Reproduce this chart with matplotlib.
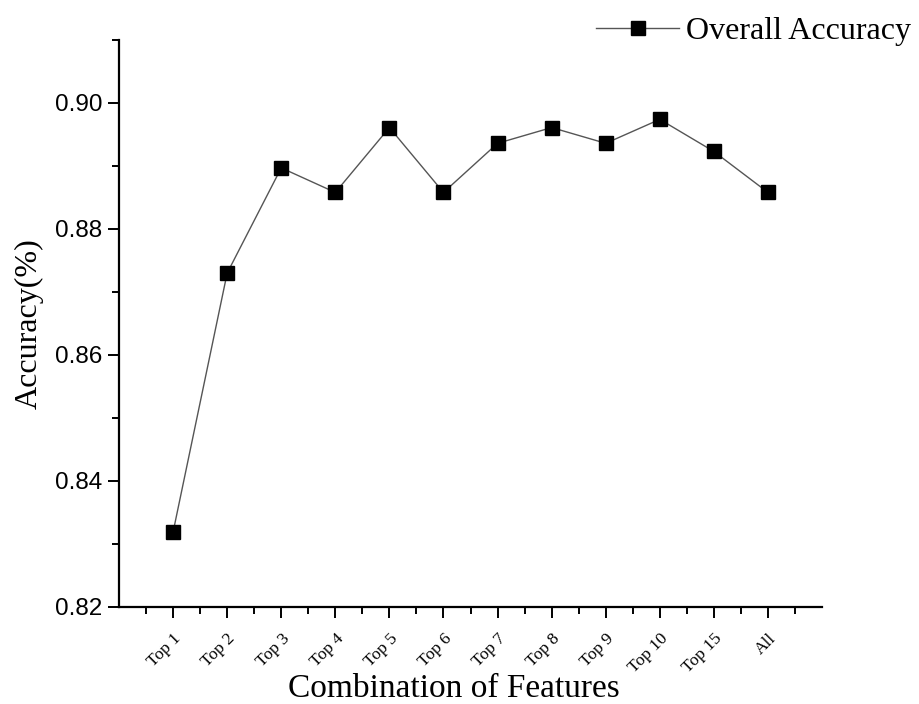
import matplotlib
matplotlib.use("Agg")
import matplotlib.pyplot as plt
from matplotlib.ticker import MultipleLocator, FixedLocator

categories = ["Top 1", "Top 2", "Top 3", "Top 4", "Top 5", "Top 6", "Top 7",
              "Top 8", "Top 9", "Top 10", "Top 15", "All"]
accuracy = [0.8319, 0.8730, 0.8897, 0.8858, 0.8961, 0.8858, 0.8936,
            0.8961, 0.8936, 0.8974, 0.8923, 0.8858]
y_ticks = [0.82, 0.84, 0.86, 0.88, 0.90]

fig = plt.figure(figsize=(9.19, 7.04), dpi=100)
ax = fig.add_axes([0.1295, 0.1378, 0.7650, 0.8054])

x = list(range(len(categories)))
ax.plot(x, accuracy, color="#555555", linewidth=1.0, marker="s",
        markersize=10, markerfacecolor="black", markeredgecolor="black",
        label="Overall Accuracy")

ax.set_xlim(-1, 12)
ax.set_ylim(0.82, 0.91)
ax.set_xticks(x)
ax.set_xticklabels(categories, rotation=45, ha="right", rotation_mode="anchor",
                   fontsize=12.5, family="Liberation Serif")
ax.xaxis.set_minor_locator(FixedLocator([i + 0.5 for i in range(-1, 12)]))
ax.set_yticks(y_ticks)
ax.set_yticklabels([f"{v:.2f}" for v in y_ticks], fontsize=17.5, family="Liberation Sans")
ax.yaxis.set_minor_locator(MultipleLocator(0.01))

for s in ["top", "right"]:
    ax.spines[s].set_visible(False)
for s in ["left", "bottom"]:
    ax.spines[s].set_linewidth(1.6)

ax.tick_params(axis="both", which="major", length=8, width=1.4, direction="out")
ax.tick_params(axis="both", which="minor", length=5, width=1.4, direction="out")
ax.tick_params(axis="x", which="major", pad=9)
ax.tick_params(axis="y", which="major", pad=4)

ax.set_xlabel("Combination of Features", fontsize=24, family="Liberation Serif", labelpad=0)
ax.xaxis.set_label_coords(0.477, -0.118)
ax.set_ylabel("Accuracy(%)", fontsize=23, family="Liberation Serif", labelpad=8)

leg = fig.legend(loc="upper right", bbox_to_anchor=(1.012, 1.003), frameon=False,
                 prop={"family": "Liberation Serif", "size": 23},
                 handlelength=2.6, handletextpad=0.2, borderaxespad=0.2)

fig.savefig("out.png", dpi=100)
